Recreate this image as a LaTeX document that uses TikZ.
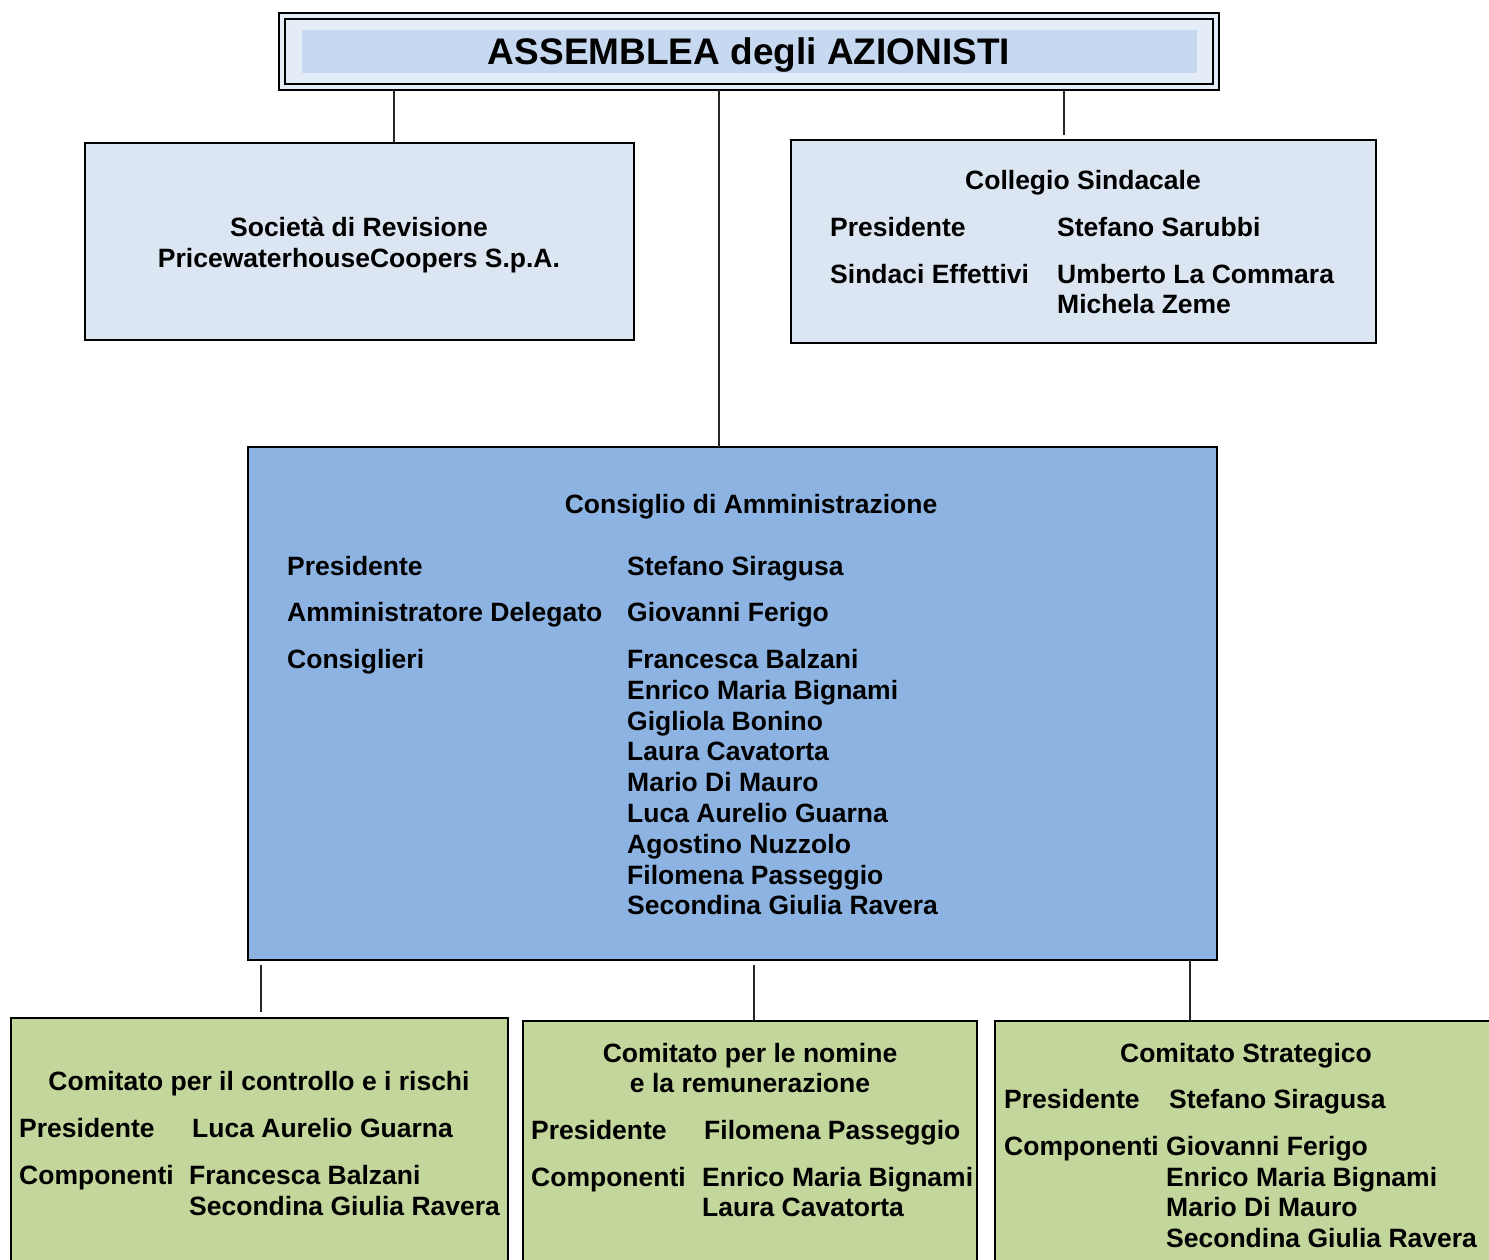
\documentclass[tikz,border=0pt]{standalone}
\usepackage{fontspec}
\setmainfont{Liberation Sans}
\usetikzlibrary{calc}
\definecolor{paleblue}{HTML}{DCE6F2}
\definecolor{midblue}{HTML}{8DB3E2}
\definecolor{topouter}{HTML}{E4ECF7}
\definecolor{topinner}{HTML}{C6D9F1}
\definecolor{green}{HTML}{C3D69B}
\newcommand{\fsz}{\fontsize{26.5}{30.8}\selectfont\bfseries}
\tikzset{
  box/.style={draw=black, line width=1.6pt, anchor=north west, inner sep=0pt, outer sep=0pt},
  lbl/.style={anchor=base west, inner sep=0pt, font=\fsz},
  ttl/.style={anchor=base, inner sep=0pt, font=\fsz},
  conn/.style={line width=1.6pt, draw=black!85}
}
\begin{document}
\begin{tikzpicture}[x=1pt,y=-1pt]
\useasboundingbox (0,0) rectangle (1489,1260);
\clip (0,0) rectangle (1489,1260);
\fill[white] (0,0) rectangle (1489,1260);

% top box
\node[box, line width=2.6pt, fill=topouter, minimum width=940, minimum height=77] (top) at (279,13) {};
\node[box, line width=1.6pt, minimum width=928, minimum height=65] (topin) at (285,19) {};
\node[anchor=north west, fill=topinner, inner sep=0pt, minimum width=895, minimum height=43] (topband) at (302,30) {};
\node[anchor=base, inner sep=0pt, font=\fontsize{37}{40}\selectfont\bfseries] (ttop) at (749,65) {ASSEMBLEA degli AZIONISTI};

% Società di revisione
\node[box, fill=paleblue, minimum width=549, minimum height=197] (soc) at (85,143) {};
\node[ttl] (soc1) at (359,236.5) {Società di Revisione};
\node[ttl] (soc2) at (359,267.5) {PricewaterhouseCoopers S.p.A.};

% Collegio sindacale
\node[box, fill=paleblue, minimum width=585, minimum height=203] (col) at (791,140) {};
\node[ttl] (colt) at (1083,189.5) {Collegio Sindacale};
\node[lbl] (colp) at (830,236.5) {Presidente};
\node[lbl] (colpn) at (1057,236.5) {Stefano Sarubbi};
\node[lbl] (cols) at (830,283.5) {Sindaci Effettivi};
\node[lbl] (colsn1) at (1057,283.5) {Umberto La Commara};
\node[lbl] (colsn2) at (1057,313.5) {Michela Zeme};

% CdA
\node[box, fill=midblue, minimum width=969, minimum height=513] (cda) at (248,447) {};
\node[ttl] (cdat) at (751,513.5) {Consiglio di Amministrazione};
\node[lbl] (cdap) at (287,575.5) {Presidente};
\node[lbl] (cdapn) at (627,575.5) {Stefano Siragusa};
\node[lbl] (cdaa) at (287,621.5) {Amministratore Delegato};
\node[lbl] (cdaan) at (627,621.5) {Giovanni Ferigo};
\node[lbl] (cdac) at (287,668.5) {Consiglieri};
\foreach \nm [count=\i from 0] in {Francesca Balzani,Enrico Maria Bignami,Gigliola Bonino,Laura Cavatorta,Mario Di Mauro,Luca Aurelio Guarna,Agostino Nuzzolo,Filomena Passeggio,Secondina Giulia Ravera}
  \node[lbl] (cdan\i) at (627,668.5+30.8*\i) {\nm};

% bottom boxes
\node[box, fill=green, minimum width=497, minimum height=260] (ctrl) at (11,1018) {};
\node[ttl] (ctrlt) at (259,1090.5) {Comitato per il controllo e i rischi};
\node[lbl] (ctrlp) at (19,1137.5) {Presidente};
\node[lbl] (ctrlpn) at (192,1137.5) {Luca Aurelio Guarna};
\node[lbl] (ctrlc) at (19,1184.5) {Componenti};
\node[lbl] (ctrlc1) at (189,1184.5) {Francesca Balzani};
\node[lbl] (ctrlc2) at (189,1215.5) {Secondina Giulia Ravera};

\node[box, fill=green, minimum width=454, minimum height=260] (nom) at (523,1021) {};
\node[ttl] (nomt1) at (750,1062.5) {Comitato per le nomine};
\node[ttl] (nomt2) at (750,1092.5) {e la remunerazione};
\node[lbl] (nomp) at (531,1139.5) {Presidente};
\node[lbl] (nompn) at (704,1139.5) {Filomena Passeggio};
\node[lbl] (nomc) at (531,1186.5) {Componenti};
\node[lbl] (nomc1) at (702,1186.5) {Enrico Maria Bignami};
\node[lbl] (nomc2) at (702,1216.5) {Laura Cavatorta};

\node[box, fill=green, minimum width=520, minimum height=260] (str) at (995,1021) {};
\node[ttl] (strt) at (1246,1062.5) {Comitato Strategico};
\node[lbl] (strp) at (1004,1108.5) {Presidente};
\node[lbl] (strpn) at (1169,1108.5) {Stefano Siragusa};
\node[lbl] (strc) at (1004,1155.5) {Componenti};
\node[lbl] (strc1) at (1166,1155.5) {Giovanni Ferigo};
\node[lbl] (strc2) at (1166,1186.5) {Enrico Maria Bignami};
\node[lbl] (strc3) at (1166,1216.5) {Mario Di Mauro};
\node[lbl] (strc4) at (1166,1247.5) {Secondina Giulia Ravera};

% connectors
\draw[conn] (394,0 |- top.south) -- (394,0 |- soc.north);
\draw[conn] (719,0 |- top.south) -- (719,0 |- cda.north);
\draw[conn] (1064,0 |- top.south) -- ($(1064,0 |- col.north)+(0,-5)$);
\draw[conn] ($(261,0 |- cda.south)+(0,5)$) -- ($(261,0 |- ctrl.north)+(0,-6)$);
\draw[conn] ($(754,0 |- cda.south)+(0,5)$) -- (754,0 |- nom.north);
\draw[conn] (1190,0 |- cda.south) -- (1190,0 |- str.north);
\end{tikzpicture}
\end{document}
